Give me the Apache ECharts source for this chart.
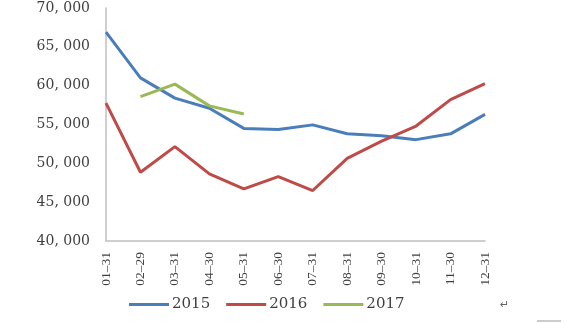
<!DOCTYPE html>
<html><head><meta charset="utf-8">
<script src="https://cdn.jsdelivr.net/npm/echarts@6/dist/echarts.min.js"></script>
<style>html,body{margin:0;padding:0;background:#fff}#c{width:569px;height:323px}</style>
</head><body><div id="c"></div>
<script>
var categories = ['01-31','02-29','03-31','04-30','05-31','06-30','07-31','08-31','09-30','10-31','11-30','12-31'];
var s2015 = [66900, 61000, 58400, 57100, 54500, 54350, 54950, 53800, 53550, 53050, 53800, 56300];
var s2016 = [57750, 48850, 52150, 48650, 46700, 48300, 46500, 50650, 52850, 54800, 58200, 60250];
var s2017 = [null, 58600, 60200, 57400, 56350, null, null, null, null, null, null, null];
var yTicks = {min: 40000, max: 70000, interval: 5000};

var chart = echarts.init(document.getElementById('c'), null, {renderer: 'canvas'});
function fmt(v){ var s = String(v); return s.slice(0, s.length-3) + ', ' + s.slice(-3); }
function line(name, data, color){
  return {name: name, type: 'line', data: data, symbol: 'none', smooth: false,
    lineStyle: {width: 3, color: color}, itemStyle: {color: color}, connectNulls: false};
}
chart.setOption({
  animation: false,
  grid: {left: 106, right: 84, top: 8, bottom: 82, containLabel: false},
  xAxis: {type: 'category', data: categories, boundaryGap: false,
    axisLine: {lineStyle: {color: '#BFBFBF', width: 1.5}}, axisTick: {show: false},
    axisLabel: {rotate: 90, margin: 11, color: '#404040', fontFamily: 'Liberation Serif', fontSize: 13.5, interval: 0,
      formatter: function(v){ return v.replace('-', '\u2013'); }}},
  yAxis: {type: 'value', min: yTicks.min, max: yTicks.max, interval: yTicks.interval,
    splitLine: {show: false},
    axisLine: {show: true, lineStyle: {color: '#BFBFBF', width: 1.5}}, axisTick: {show: false},
    axisLabel: {margin: 16, color: '#404040', fontFamily: 'DejaVu Serif', fontSize: 14, formatter: fmt}},
  legend: {bottom: 6, left: 124, icon: 'rect', itemWidth: 40, itemHeight: 3, itemGap: 16,
    textStyle: {color: '#404040', fontFamily: 'DejaVu Serif', fontSize: 15, padding: [0, 0, 0, -2]},
    data: ['2015','2016','2017']},
  series: [line('2015', s2015, '#4A7EBB'), line('2016', s2016, '#BE4B48'), line('2017', s2017, '#98B954')],
  graphic: [
    {type: 'text', left: 500, top: 300, style: {text: '\u21B5', fill: '#666', font: '11px DejaVu Sans'}},
    {type: 'line', shape: {x1: 537, y1: 321, x2: 561, y2: 321}, style: {stroke: '#999', lineWidth: 1}}
  ]
});
</script></body></html>
